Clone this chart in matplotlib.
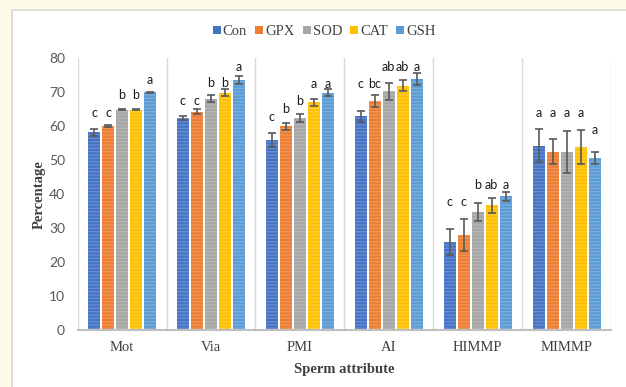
import numpy as np
import matplotlib.pyplot as plt
from matplotlib.patches import Rectangle

# sperm attributes and the five treatment groups
attributes = ['Mot', 'Via', 'PMI', 'AI', 'HIMMP', 'MIMMP']
groups = ['Con', 'GPX', 'SOD', 'CAT', 'GSH']
colors = ['#4472C4', '#ED7D31', '#A5A5A5', '#FFC000', '#5B9BD5']

# mean percentages, one list per group (order follows attributes)
con = [58.2, 62.5, 55.9, 63.0, 26.0, 54.3]
gpx = [60.0, 64.3, 60.0, 67.4, 28.0, 52.5]
sod = [64.9, 68.1, 62.5, 70.3, 34.7, 52.5]
cat = [64.9, 69.9, 67.1, 72.0, 36.7, 53.8]
gsh = [70.0, 73.6, 69.9, 74.0, 39.4, 50.7]

# standard errors
con_err = [1.0, 0.6, 2.1, 1.6, 3.9, 4.9]
gpx_err = [0.3, 0.8, 1.1, 1.7, 4.6, 3.7]
sod_err = [0.2, 1.0, 1.1, 2.6, 2.6, 6.1]
cat_err = [0.2, 1.0, 1.1, 1.7, 2.2, 5.0]
gsh_err = [0.2, 1.2, 1.0, 1.7, 1.4, 1.8]

# significance letters and the height they sit at
con_sig = ['c', 'c', 'c', 'c', 'c', 'a']
gpx_sig = ['c', 'c', 'b', 'bc', 'c', 'a']
sod_sig = ['b', 'b', 'b', 'ab', 'b', 'a']
cat_sig = ['b', 'b', 'a', 'ab', 'ab', 'a']
gsh_sig = ['a', 'a', 'a', 'a', 'a', 'a']
con_sig_y = [63.9, 67.6, 62.7, 72.5, 37.6, 63.9]
gpx_sig_y = [63.9, 67.6, 65.2, 72.5, 37.6, 63.9]
sod_sig_y = [69.1, 72.7, 67.6, 77.4, 42.6, 63.9]
cat_sig_y = [69.1, 72.7, 72.5, 77.4, 42.6, 63.9]
gsh_sig_y = [73.7, 77.4, 72.5, 77.4, 42.6, 59.0]

means = [con, gpx, sod, cat, gsh]
errs = [con_err, gpx_err, sod_err, cat_err, gsh_err]
sigs = [con_sig, gpx_sig, sod_sig, cat_sig, gsh_sig]
sig_ys = [con_sig_y, gpx_sig_y, sod_sig_y, cat_sig_y, gsh_sig_y]

fig = plt.figure(figsize=(6.26, 3.87), dpi=100)
fig.patch.set_facecolor('#FFFBEA')
# white chart frame behind everything
fig.patches.append(Rectangle((12 / 626, -0.1), 1.0, 1.1 - 10 / 387,
                             transform=fig.transFigure, facecolor='white',
                             edgecolor='#D9D9D9', linewidth=1.2, zorder=-1))

ax = fig.add_axes([0.124, 0.147, 0.852, 0.702])
ax.set_facecolor('white')

x = np.arange(len(attributes))
pitch = 0.1575
width = 0.135
for i, g in enumerate(groups):
    pos = x + (i - 2) * pitch
    ax.bar(pos, means[i], width, color=colors[i], label=g, zorder=2)
    # faint horizontal stripes on the bars
    ax.bar(pos, means[i], width, facecolor='none', edgecolor='#FFFFFF30',
           hatch='-----', linewidth=0, zorder=2.5)
    ax.errorbar(pos, means[i], yerr=errs[i], fmt='none', ecolor='#595959',
                elinewidth=1.2, capsize=3, capthick=1.2, zorder=3)
    for j in range(len(attributes)):
        ax.text(pos[j], sig_ys[i][j], sigs[i][j], ha='center', va='center',
                fontsize=9, family='Lato', color='#1a1a1a', zorder=4)

ax.set_xlim(-0.5, 5.5)
ax.set_ylim(0, 80)
ax.set_yticks(np.arange(0, 81, 10))
ax.set_xticks(x)
ax.set_xticklabels(attributes, family='Liberation Serif', fontsize=10.5,
                   color='#404040')
for lab in ax.get_yticklabels():
    lab.set_family('Lato')
    lab.set_fontsize(10)
    lab.set_color('#595959')
ax.tick_params(axis='both', length=0)
ax.tick_params(axis='y', pad=9)
ax.tick_params(axis='x', pad=8)

# category separators
for b in np.arange(-0.5, 6, 1):
    ax.axvline(b, color='#D9D9D9', linewidth=1.0, zorder=1)
for s in ['top', 'right', 'left']:
    ax.spines[s].set_visible(False)
ax.spines['bottom'].set_color('#BFBFBF')
ax.spines['bottom'].set_linewidth(1.5)

ax.set_xlabel('Sperm attribute', family='Liberation Serif', fontweight='bold',
              fontsize=10.5, color='#404040', labelpad=6)
ax.set_ylabel('Percentage', family='Liberation Serif', fontweight='bold',
              fontsize=10.5, color='#404040', labelpad=2)

fig.legend(loc='center', bbox_to_anchor=(0.518, 0.918), ncol=5, frameon=False,
           prop={'family': 'Liberation Serif', 'size': 10.5},
           handlelength=0.55, handleheight=0.55, handletextpad=0.15,
           columnspacing=0.55, labelcolor='#404040')

fig.savefig('out.png', dpi=100, facecolor=fig.get_facecolor())
